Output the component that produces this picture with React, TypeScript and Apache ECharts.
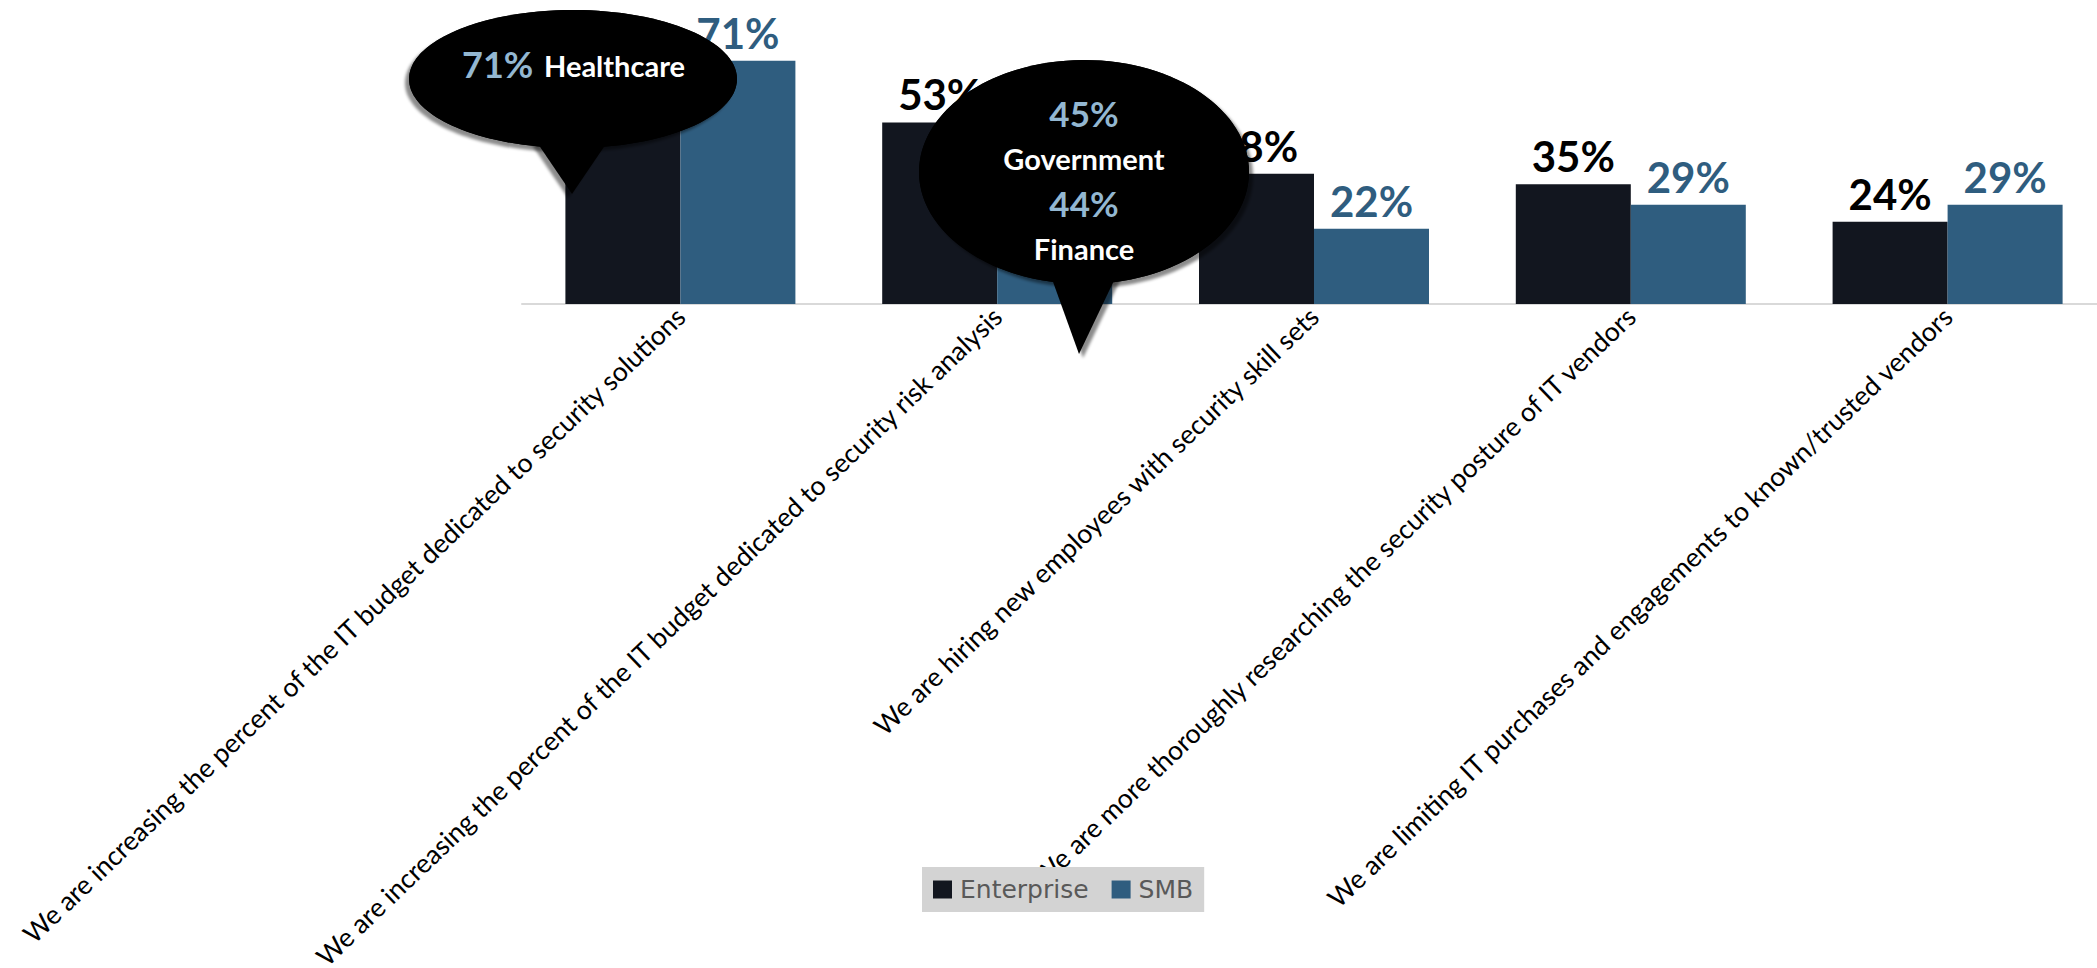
import React, { useEffect, useRef } from "react";
import * as echarts from "echarts";

const categories = [
  "We are increasing the percent of the IT budget dedicated to security solutions",
  "We are increasing the percent of the IT budget dedicated to security risk analysis",
  "We are hiring new employees with security skill sets",
  "We are more thoroughly researching the security posture of IT vendors",
  "We are limiting IT purchases and engagements to known/trusted vendors",
];
const seriesNames = ["Enterprise", "SMB"];
const enterprise = [62, 53, 38, 35, 24];
const smb = [71, 46, 22, 29, 29];

const callout1Values = ["71%"];
const callout1Labels = ["Healthcare"];
const callout2Values = ["45%", "44%"];
const callout2Labels = ["Government", "Finance"];

const ENT_COLOR = "#12161F";
const SMB_COLOR = "#2F5D7F";
const CALLOUT_BLUE = "#93B7D1";

export default function App() {
  const ref = useRef<HTMLDivElement>(null);
  useEffect(() => {
    if (!ref.current) return;
    const chart = echarts.init(ref.current, null, { renderer: "svg" });
    const balloonStyle = (dx: number) => ({
      fill: "#000",
      shadowBlur: 3,
      shadowOffsetX: dx,
      shadowOffsetY: 4,
      shadowColor: "rgba(0,0,0,0.45)",
    });
    const txt = (x: number, y: number, text: string, color: string, size: number, align = "center") => ({
      type: "text",
      x,
      y,
      z: 102,
      style: {
        text,
        fill: color,
        fontSize: size,
        fontWeight: "bold",
        fontFamily: "Lato",
        align,
        verticalAlign: "middle",
      },
    });
    const option = {
      animation: false,
      grid: { left: 522, top: 30, width: 1584, height: 274, containLabel: false, outerBoundsMode: "none" },
      legend: {
        data: seriesNames,
        left: 922,
        top: 867,
        padding: [10, 11],
        itemWidth: 19,
        itemHeight: 18,
        itemGap: 23,
        backgroundColor: "#D3D3D3",
        icon: "rect",
        textStyle: { color: "#595959", fontSize: 25, fontFamily: "DejaVu Sans", padding: [0, 0, 0, 3] },
      },
      xAxis: {
        type: "category",
        data: categories,
        axisLine: { lineStyle: { color: "#D9D9D9", width: 2 } },
        axisTick: { show: false },
        axisLabel: {
          rotate: 43.8,
          interval: 0,
          margin: 8,
          color: "#000",
          fontSize: 26.6,
          fontFamily: "Lato",
        },
      },
      yAxis: {
        type: "value",
        min: 0,
        max: 80,
        show: false,
        splitLine: { show: false },
      },
      series: [
        {
          name: seriesNames[0],
          type: "bar",
          data: enterprise,
          barWidth: 115,
          barGap: "0%",
          itemStyle: { color: ENT_COLOR },
          label: {
            show: true,
            position: "top",
            distance: 7,
            formatter: "{c}%",
            color: "#000",
            fontSize: 42,
            fontWeight: "bold",
            fontFamily: "Lato",
          },
        },
        {
          name: seriesNames[1],
          type: "bar",
          data: smb,
          barWidth: 115,
          barGap: "0%",
          itemStyle: { color: SMB_COLOR },
          label: {
            show: true,
            position: "top",
            distance: 7,
            formatter: "{c}%",
            color: SMB_COLOR,
            fontSize: 42,
            fontWeight: "bold",
            fontFamily: "Lato",
          },
        },
      ],
      graphic: [
        { type: "ellipse", z: 100, shape: { cx: 573, cy: 79, rx: 164, ry: 69 }, style: balloonStyle(-4) },
        { type: "polygon", z: 100, shape: { points: [[534, 138], [572, 194], [610, 138]] }, style: balloonStyle(-4) },
        { type: "ellipse", z: 100, shape: { cx: 1084, cy: 172, rx: 165, ry: 112 }, style: balloonStyle(4) },
        { type: "polygon", z: 100, shape: { points: [[1048, 268], [1079, 354], [1120, 268]] }, style: balloonStyle(4) },
        { type: "ellipse", z: 101, shape: { cx: 573, cy: 79, rx: 164, ry: 69 }, style: { fill: "#000" } },
        { type: "ellipse", z: 101, shape: { cx: 1084, cy: 172, rx: 165, ry: 112 }, style: { fill: "#000" } },
        txt(462, 64, callout1Values[0], CALLOUT_BLUE, 36, "left"),
        txt(544, 65, callout1Labels[0], "#fff", 29, "left"),
        txt(1084, 113, callout2Values[0], CALLOUT_BLUE, 35),
        txt(1084, 158, callout2Labels[0], "#fff", 29),
        txt(1084, 203, callout2Values[1], CALLOUT_BLUE, 35),
        txt(1084, 248, callout2Labels[1], "#fff", 29),
      ],
    };
    chart.setOption(option as any);
    return () => chart.dispose();
  }, []);
  return (
    <div style={{ position: "absolute", left: 0, top: 0, width: 2097, height: 968, overflow: "hidden", background: "#fff" }}>
      <div ref={ref} style={{ width: 2112, height: 968 }} />
    </div>
  );
}
